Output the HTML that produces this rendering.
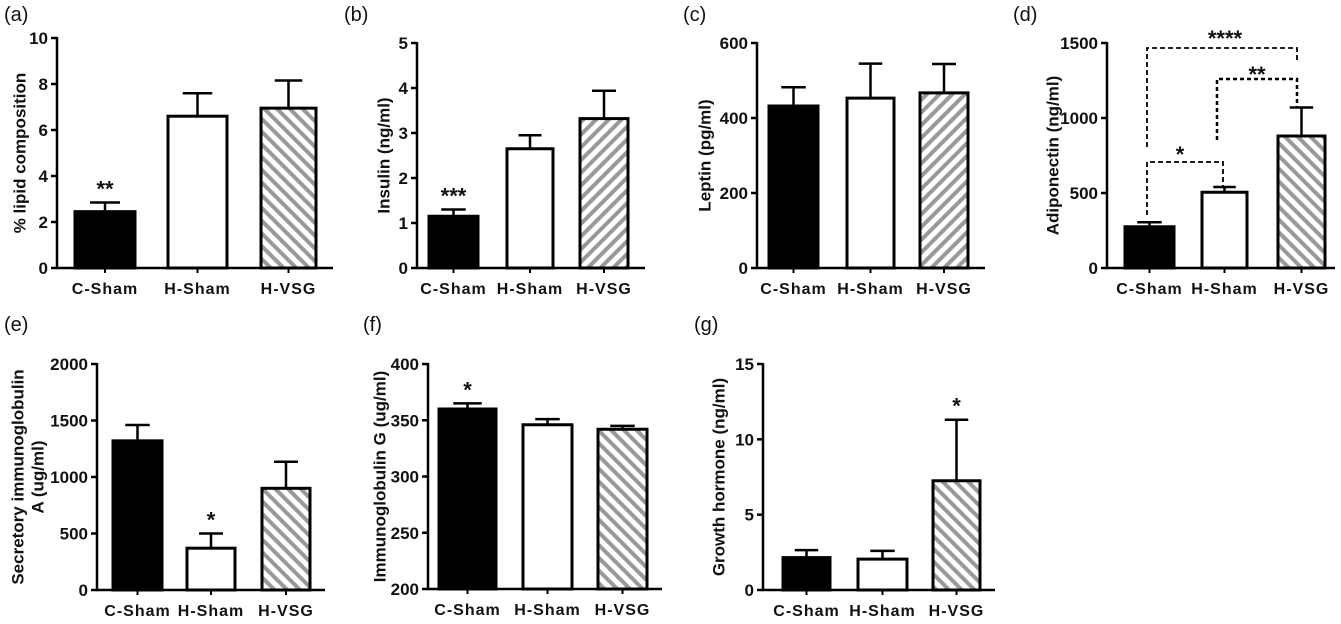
<!DOCTYPE html>
<html><head><meta charset="utf-8">
<style>
html,body{margin:0;padding:0;background:#fff;}
svg{display:block;font-family:"Liberation Sans",Arial,sans-serif;}
.tk{font-size:17px;font-weight:bold;fill:#111;}
.xl{font-size:16px;font-weight:bold;fill:#111;letter-spacing:1px;}
.tt{font-size:17px;font-weight:bold;fill:#111;}
.pl{font-size:20px;fill:#111;}
.st{font-size:22px;font-weight:bold;fill:#111;}
</style></head>
<body>
<svg id="fig" width="1341" height="624" viewBox="0 0 1341 624" xmlns="http://www.w3.org/2000/svg">
<defs>
<pattern id="hatchB" patternUnits="userSpaceOnUse" width="9" height="9" patternTransform="rotate(-45)">
<rect width="9" height="9" fill="#fff"/><rect width="4" height="9" fill="#999"/></pattern>
<pattern id="hatchF" patternUnits="userSpaceOnUse" width="9" height="9" patternTransform="rotate(45)">
<rect width="9" height="9" fill="#fff"/><rect width="4" height="9" fill="#999"/></pattern>
</defs>
</svg>
<script>
const categories = ["C-Sham","H-Sham","H-VSG"];

const aValues = [2.45, 6.6, 6.95];
const aErrors = [0.4, 1.0, 1.2];
const aTicks = [0,2,4,6,8,10];

const bValues = [1.15, 2.65, 3.32];
const bErrors = [0.15, 0.3, 0.62];
const bTicks = [0,1,2,3,4,5];

const cValues = [432, 453, 467];
const cErrors = [50, 92, 77];
const cTicks = [0,200,400,600];

const dValues = [275, 505, 880];
const dErrors = [30, 35, 190];
const dTicks = [0,500,1000,1500];

const eValues = [1320, 370, 900];
const eErrors = [140, 130, 235];
const eTicks = [0,500,1000,1500,2000];

const fValues = [360, 346, 342];
const fErrors = [5, 5, 3];
const fTicks = [200,250,300,350,400];

const gValues = [2.15, 2.05, 7.25];
const gErrors = [0.5, 0.55, 4.05];
const gTicks = [0,5,10,15];

const svg = document.getElementById('fig');
const NS = 'http://www.w3.org/2000/svg';
function mk(tag, attrs, parent){
  const e = document.createElementNS(NS, tag);
  for (const k in attrs) e.setAttribute(k, attrs[k]);
  (parent||svg).appendChild(e);
  return e;
}
function txt(str, x, y, cls, anchor, parent){
  const t = mk('text', {x:x, y:y, class:cls, 'text-anchor':anchor||'middle'}, parent);
  t.textContent = str;
  return t;
}

function panel(cfg){
  const g = mk('g', {});
  
  
  const min = cfg.ticks[0], max = cfg.ticks[cfg.ticks.length-1];
  const y = v => cfg.y0 - (v - min) / (max - min) * (cfg.y0 - cfg.y1);
  const pl = txt('(' + cfg.id + ')', cfg.lx, cfg.ly, 'pl', 'start', g);
  
  
  cfg.values.forEach((v, i) => {
    const bx = cfg.bars[i][0], bw = cfg.bars[i][1] - cfg.bars[i][0];
    const cx = bx + bw/2;
    const top = y(v), et = y(v + cfg.errors[i]);
    const eb = mk('path', {d:'M'+cx+' '+top+'V'+et+'M'+(cx-bw/4)+' '+et+'H'+(cx+bw/4), stroke:'#000','stroke-width':2.5, fill:'none'}, g);
    
    
    const fill = i===0 ? '#000' : (i===1 ? '#fff' : 'url(#' + cfg.hatch + ')');
    const r = mk('rect', {x:bx, y:top, width:bw, height:cfg.y0-top, fill:fill, stroke:'#000', 'stroke-width':3}, g);
    
    
    const xl = txt(categories[i], cx, cfg.y0 + 26, 'xl', 'middle', g);
    
    
    if (cfg.stars && cfg.stars[i]) {
      const s = txt(cfg.stars[i], cx, et - 6, 'st', 'middle', g);
      
      
    }
  });
  const ax = mk('path', {d:'M'+cfg.ax+' '+(cfg.y1-1)+'V'+cfg.y0+'H'+cfg.xend, stroke:'#000','stroke-width':2.5, fill:'none'}, g);
  
  
  cfg.ticks.forEach(t => {
    const ty = y(t);
    const tl = mk('line', {x1:cfg.ax-6, x2:cfg.ax, y1:ty, y2:ty, stroke:'#000','stroke-width':2.5}, g);
    
    
    const lb = txt(String(t), cfg.ax-9, ty+6, 'tk', 'end', g);
    
    
  });
  cfg.bars.forEach(b => {
    const cx = (b[0]+b[1])/2;
    const xt = mk('line', {x1:cx, x2:cx, y1:cfg.y0, y2:cfg.y0+5, stroke:'#000','stroke-width':2}, g);
    
    
  });
  const cy = (cfg.y0 + cfg.y1)/2;
  cfg.title.forEach((line, k) => {
    const tx = cfg.tx + k*20;
    const t = txt(line, tx, cy, 'tt', 'middle', g);
    t.setAttribute('transform', 'rotate(-90 ' + tx + ' ' + cy + ')');
    t.setAttribute('dominant-baseline', 'middle');
    
    
  });
  return y;
}

panel({id:'a', values:aValues, errors:aErrors, ticks:aTicks, ax:57, y0:268, y1:38, xend:333,
  bars:[[75,135],[168,227],[261,316]], hatch:'hatchB', lx:4, ly:21, tx:21, title:['% lipid composition'], stars:['**','','']});
panel({id:'b', values:bValues, errors:bErrors, ticks:bTicks, ax:417, y0:268, y1:43, xend:645,
  bars:[[429,478],[507,553],[580,628]], hatch:'hatchF', lx:344, ly:21, tx:385, title:['Insulin (ng/ml)'], stars:['***','','']});
panel({id:'c', values:cValues, errors:cErrors, ticks:cTicks, ax:757, y0:268, y1:43, xend:985,
  bars:[[769,818],[847,894],[920,968]], hatch:'hatchF', lx:683, ly:21, tx:706, title:['Leptin (pg/ml)']});
const yd = panel({id:'d', values:dValues, errors:dErrors, ticks:dTicks, ax:1107, y0:268, y1:43, xend:1335,
  bars:[[1125,1174],[1202,1247],[1278,1325]], hatch:'hatchB', lx:1013, ly:21, tx:1054, title:['Adiponectin (ng/ml)']});
panel({id:'e', values:eValues, errors:eErrors, ticks:eTicks, ax:97, y0:590, y1:364, xend:325,
  bars:[[113,162],[187,235],[262,310]], hatch:'hatchB', lx:4, ly:331, tx:19, title:['Secretory immunoglobulin','A (ug/ml)'], stars:['','*','']});
panel({id:'f', values:fValues, errors:fErrors, ticks:fTicks, ax:428, y0:589, y1:364, xend:662,
  bars:[[439,496],[523,572],[598,647]], hatch:'hatchB', lx:363, ly:331, tx:381, title:['Immunoglobulin G (ug/ml)'], stars:['*','','']});
panel({id:'g', values:gValues, errors:gErrors, ticks:gTicks, ax:763, y0:590, y1:364, xend:995,
  bars:[[783,830],[858,907],[933,980]], hatch:'hatchB', lx:694, ly:331, tx:720, title:['Growth hormone (ng/ml)'], stars:['','','*']});

const br = mk('g', {});


const b1 = mk('path', {d:'M1147 215V162H1223V188', stroke:'#000','stroke-width':1.8,'stroke-dasharray':'5,3',fill:'none'}, br);


const b2 = mk('path', {d:'M1217 140V79H1297V107', stroke:'#000','stroke-width':2.5,'stroke-dasharray':'4,3',fill:'none'}, br);


const b3 = mk('path', {d:'M1147 147V48H1297V63', stroke:'#000','stroke-width':1.8,'stroke-dasharray':'5,3',fill:'none'}, br);


const s1 = txt('*', 1180, 162, 'st', 'middle', br);


const s2 = txt('**', 1257, 82, 'st', 'middle', br);


const s3 = txt('****', 1225, 46, 'st', 'middle', br);


</script>
</body></html>
